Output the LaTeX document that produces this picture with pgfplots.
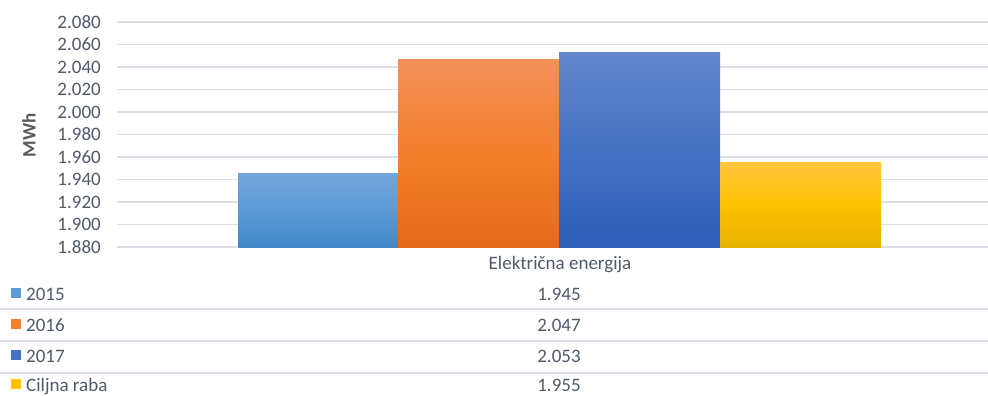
\documentclass[border=0pt]{standalone}
\usepackage{pgfplots}
\pgfplotsset{compat=1.18}
\usepackage{fontspec}
\setmainfont{Carlito}
\definecolor{gridc}{HTML}{DCE0E6}
\definecolor{txt}{HTML}{4F5A69}
\definecolor{lbl}{HTML}{595959}
\definecolor{aT}{HTML}{71A6DB}\definecolor{aM}{HTML}{5B9BD5}\definecolor{aB}{HTML}{4288C8}
\definecolor{bT}{HTML}{F29158}\definecolor{bM}{HTML}{F47F2C}\definecolor{bB}{HTML}{E4691A}
\definecolor{cT}{HTML}{6386CC}\definecolor{cM}{HTML}{4472C4}\definecolor{cB}{HTML}{2D5DB8}
\definecolor{dT}{HTML}{FFC53D}\definecolor{dM}{HTML}{FFC000}\definecolor{dB}{HTML}{E6B400}
\newcommand{\fs}{\fontsize{19}{19}\selectfont}
\begin{document}
\begin{tikzpicture}[x=1pt,y=1pt]
\useasboundingbox (0,0) rectangle (988,-396);
\begin{axis}[
  at={(117pt,-247pt)}, anchor=south west,
  scale only axis, width=871pt, height=225pt,
  xmin=-442, xmax=429, ymin=1880, ymax=2080,
  xtick=\empty,
  ytick={1880,1900,...,2080},
  axis line style={draw=none}, major tick style={draw=none},
  ymajorgrids, grid style={gridc, line width=1.5pt},
  yticklabel style={font=\fs, text=txt, inner sep=0pt, anchor=east, xshift=-16pt},
  /pgf/number format/.cd, fixed, 1000 sep={.}, assume math mode=true,
]
\addplot[draw=none, top color=aT, bottom color=aB, middle color=aM] coordinates {(-321,1880) (-321,1945) (-161,1945) (-161,1880)} --cycle;
\addplot[draw=none, top color=bT, bottom color=bB, middle color=bM] coordinates {(-161,1880) (-161,2047) (0,2047) (0,1880)} --cycle;
\addplot[draw=none, top color=cT, bottom color=cB, middle color=cM] coordinates {(0,1880) (0,2053) (161,2053) (161,1880)} --cycle;
\addplot[draw=none, top color=dT, bottom color=dB, middle color=dM] coordinates {(161,1880) (161,1955) (322,1955) (322,1880)} --cycle;
\end{axis}
\node[rotate=90, font=\fs\bfseries, text=lbl, inner sep=0pt] at (29,-135) {MWh};
\node[font=\fs, text=txt, anchor=base, inner sep=0pt] at (560,-269) {Električna energija};
\foreach \yy in {309,341,373} \draw[gridc, line width=1.5pt] (0,-\yy) -- (988,-\yy);
\foreach \yb/\c/\lab/\val in {300/aM/2015/1.945, 331/bM/2016/2.047, 362/cM/2017/2.053, 391/dM/Ciljna raba/1.955} {
  \fill[\c] (11,-\yb+2) rectangle (21,-\yb+12);
  \node[font=\fs, text=txt, anchor=base west, inner sep=0pt] at (26,-\yb) {\lab};
  \node[font=\fs, text=txt, anchor=base, inner sep=0pt] at (559,-\yb) {\val};
}
\end{tikzpicture}
\end{document}
